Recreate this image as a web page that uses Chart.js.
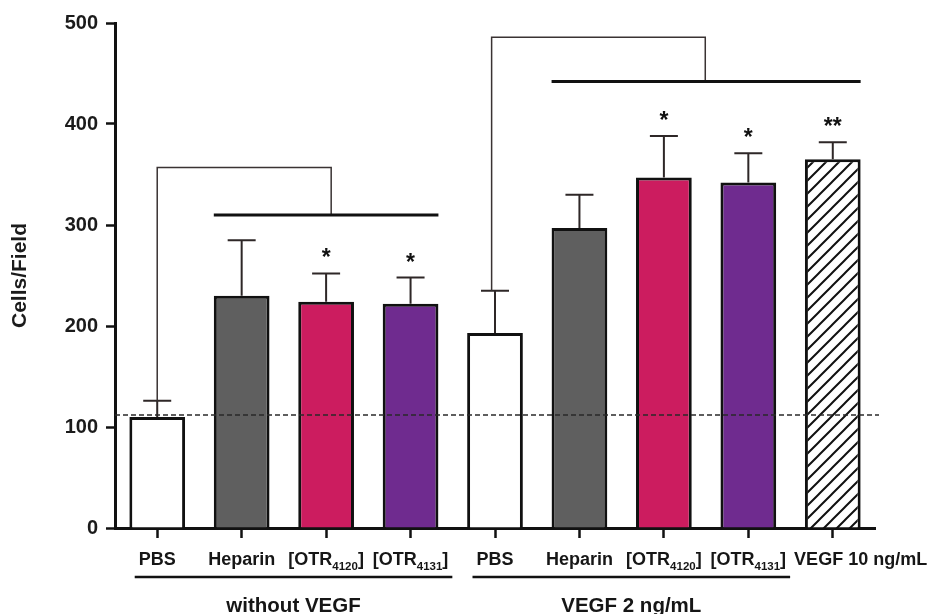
<!DOCTYPE html>
<html>
<head>
<meta charset="utf-8">
<script src="https://cdn.jsdelivr.net/npm/chart.js@4.4.1/dist/chart.umd.min.js"></script>
<style>
  html, body { margin: 0; padding: 0; background: #fff; }
</style>
</head>
<body>
<canvas id="cellsChart" width="931" height="614"></canvas>
<script>
// Data (subscripts written as _{...})
const categories = ['PBS', 'Heparin', '[OTR_{4120}]', '[OTR_{4131}]', 'PBS', 'Heparin', '[OTR_{4120}]', '[OTR_{4131}]', 'VEGF 10 ng/mL'];
const meanCells = [110, 230, 224, 222, 193, 297, 347, 342, 365];
const errUpper = [16, 55, 28, 26, 42, 33, 41, 29, 17];
const stars = ['', '', '*', '*', '', '', '*', '*', '**'];
const yTicks = [0, 100, 200, 300, 400, 500];
const pbsBaseline = 112;

// groups under the x axis
const groupNames = ['without VEGF', 'VEGF 2 ng/mL'];
const groupFirst = [0, 4];
const groupLast = [3, 7];

// comparison brackets (category index / value units)
const bracketFrom = [0, 3.96];
const bracketDrop = [2.06, 6.49];
const bracketTop = [357, 486];
const barLineFrom = [1, 5];
const barLineTo = [3, 8];
const barLineValue = [310, 442];

const FONT = "'Liberation Sans', Arial, Helvetica, sans-serif";
const MAIN_PX = 18;
const SUB_PX = 11.5;

function makeHatch() {
  const s = 13;
  const c = document.createElement('canvas');
  c.width = s; c.height = s;
  const g = c.getContext('2d');
  g.fillStyle = '#fff';
  g.fillRect(0, 0, s, s);
  g.strokeStyle = '#111';
  g.lineWidth = 2;
  g.beginPath();
  g.moveTo(-1, s + 1); g.lineTo(s + 1, -1);
  g.moveTo(-s / 2, s / 2); g.lineTo(s / 2, -s / 2);
  g.moveTo(s / 2, s * 1.5); g.lineTo(s * 1.5, s / 2);
  g.stroke();
  return g.createPattern(c, 'repeat');
}

const barColors = ['#ffffff', '#5f5f5f', '#cc1c5f', '#6f2b8f', '#ffffff', '#5f5f5f', '#cc1c5f', '#6f2b8f', makeHatch()];

// split "[OTR_{4120}]" into normal / subscript pieces
function splitLabel(str) {
  const parts = [];
  const re = /_\{([^}]*)\}/g;
  let last = 0, m;
  while ((m = re.exec(str)) !== null) {
    if (m.index > last) parts.push({ text: str.slice(last, m.index), sub: false });
    parts.push({ text: m[1], sub: true });
    last = re.lastIndex;
  }
  if (last < str.length) parts.push({ text: str.slice(last), sub: false });
  return parts;
}

function labelWidth(ctx, parts) {
  let w = 0;
  parts.forEach(p => {
    ctx.font = 'bold ' + (p.sub ? SUB_PX : MAIN_PX) + 'px ' + FONT;
    w += ctx.measureText(p.text).width;
  });
  return w;
}

const annotations = {
  id: 'annotations',
  afterDatasetsDraw(chart) {
    const { ctx, chartArea, scales: { x, y } } = chart;
    ctx.save();

    // error bars (upper only)
    ctx.strokeStyle = '#2e2727';
    ctx.lineWidth = 2;
    meanCells.forEach((m, i) => {
      const cx = x.getPixelForValue(i);
      const top = y.getPixelForValue(m + errUpper[i]);
      ctx.beginPath();
      ctx.moveTo(cx, y.getPixelForValue(m));
      ctx.lineTo(cx, top);
      ctx.moveTo(cx - 14, top);
      ctx.lineTo(cx + 14, top);
      ctx.stroke();
    });

    // dashed PBS level
    ctx.save();
    ctx.setLineDash([5, 3]);
    ctx.lineWidth = 1.5;
    ctx.strokeStyle = '#2a2a2a';
    const by = y.getPixelForValue(pbsBaseline);
    ctx.beginPath();
    ctx.moveTo(chartArea.left, by);
    ctx.lineTo(chartArea.right + 4, by);
    ctx.stroke();
    ctx.restore();

    // brackets
    bracketFrom.forEach((f, k) => {
      const i = Math.round(f);
      const lx = x.getPixelForValue(f);
      const dx = x.getPixelForValue(bracketDrop[k]);
      const ty = y.getPixelForValue(bracketTop[k]);
      const ly = y.getPixelForValue(barLineValue[k]);
      ctx.strokeStyle = '#3a3333';
      ctx.lineWidth = 1.5;
      ctx.beginPath();
      ctx.moveTo(lx, y.getPixelForValue(meanCells[i] + errUpper[i]));
      ctx.lineTo(lx, ty);
      ctx.lineTo(dx, ty);
      ctx.lineTo(dx, ly);
      ctx.stroke();

      const half = (x.getPixelForValue(1) - x.getPixelForValue(0)) * 0.33;
      ctx.strokeStyle = '#111';
      ctx.lineWidth = 3;
      ctx.beginPath();
      ctx.moveTo(x.getPixelForValue(barLineFrom[k]) - half, ly);
      ctx.lineTo(x.getPixelForValue(barLineTo[k]) + half, ly);
      ctx.stroke();
    });

    // significance stars
    ctx.fillStyle = '#111';
    ctx.font = 'bold 23px ' + FONT;
    ctx.textAlign = 'center';
    ctx.textBaseline = 'alphabetic';
    stars.forEach((s, i) => {
      if (!s) return;
      const cap = y.getPixelForValue(meanCells[i] + errUpper[i]);
      ctx.fillText(s, x.getPixelForValue(i), cap - 21 + 13);
    });
    ctx.restore();
  },
  afterDraw(chart) {
    const { ctx, scales: { x } } = chart;
    ctx.save();
    ctx.fillStyle = '#161616';
    ctx.textBaseline = 'alphabetic';
    ctx.textAlign = 'left';
    const extents = [];
    let prevEnd = -Infinity;
    categories.forEach((c, i) => {
      const parts = splitLabel(c);
      const w = labelWidth(ctx, parts);
      // centred on the tick, pushed right if it would run into its neighbour
      let px = Math.max(x.getPixelForValue(i) - w / 2, prevEnd + 8);
      extents.push([px, px + w]);
      prevEnd = px + w;
      parts.forEach(p => {
        ctx.font = 'bold ' + (p.sub ? SUB_PX : MAIN_PX) + 'px ' + FONT;
        ctx.fillText(p.text, px, p.sub ? 570 : 565);
        px += ctx.measureText(p.text).width;
      });
    });

    // group underlines and names
    groupNames.forEach((name, k) => {
      const x0 = extents[groupFirst[k]][0] - 4;
      const x1 = extents[groupLast[k]][1] + 4;
      ctx.strokeStyle = '#111';
      ctx.lineWidth = 2.5;
      ctx.beginPath();
      ctx.moveTo(x0, 577);
      ctx.lineTo(x1, 577);
      ctx.stroke();
      ctx.font = 'bold 20.5px ' + FONT;
      ctx.textAlign = 'center';
      ctx.fillText(name, (x0 + x1) / 2, 612);
      ctx.textAlign = 'left';
    });
    ctx.restore();
  }
};

const ctx = document.getElementById('cellsChart').getContext('2d');
const cellsChart = new Chart(ctx, {
  type: 'bar',
  data: {
    labels: categories,
    datasets: [{
      data: meanCells,
      backgroundColor: barColors,
      borderColor: '#111',
      borderWidth: 3,
      barPercentage: 0.66,
      categoryPercentage: 1
    }]
  },
  options: {
    responsive: false,
    animation: false,
    devicePixelRatio: 1,
    layout: { padding: { top: 23, right: 56, left: 0, bottom: 0 } },
    plugins: {
      legend: { display: false },
      tooltip: { enabled: false }
    },
    scales: {
      x: {
        offset: true,
        grid: { offset: false, drawOnChartArea: false, tickLength: 10, tickWidth: 2.5, tickColor: '#111' },
        border: { color: '#111', width: 3 },
        ticks: { display: false },
        afterFit: s => { s.height = 86; }
      },
      y: {
        min: 0,
        max: 500,
        afterBuildTicks: s => { s.ticks = yTicks.map(v => ({ value: v })); },
        grid: { drawOnChartArea: false, tickLength: 9, tickWidth: 2.5, tickColor: '#111' },
        border: { color: '#111', width: 3 },
        ticks: {
          font: { family: FONT, size: 20, weight: 'bold' },
          color: '#1b1b1b',
          padding: 8
        },
        title: {
          display: true,
          text: 'Cells/Field',
          font: { family: FONT, size: 21, weight: 'bold' },
          color: '#1b1b1b',
          padding: { top: 8, bottom: 0 }
        },
        afterFit: s => { s.width = 115; }
      }
    }
  },
  plugins: [annotations]
});
</script>
</body>
</html>
